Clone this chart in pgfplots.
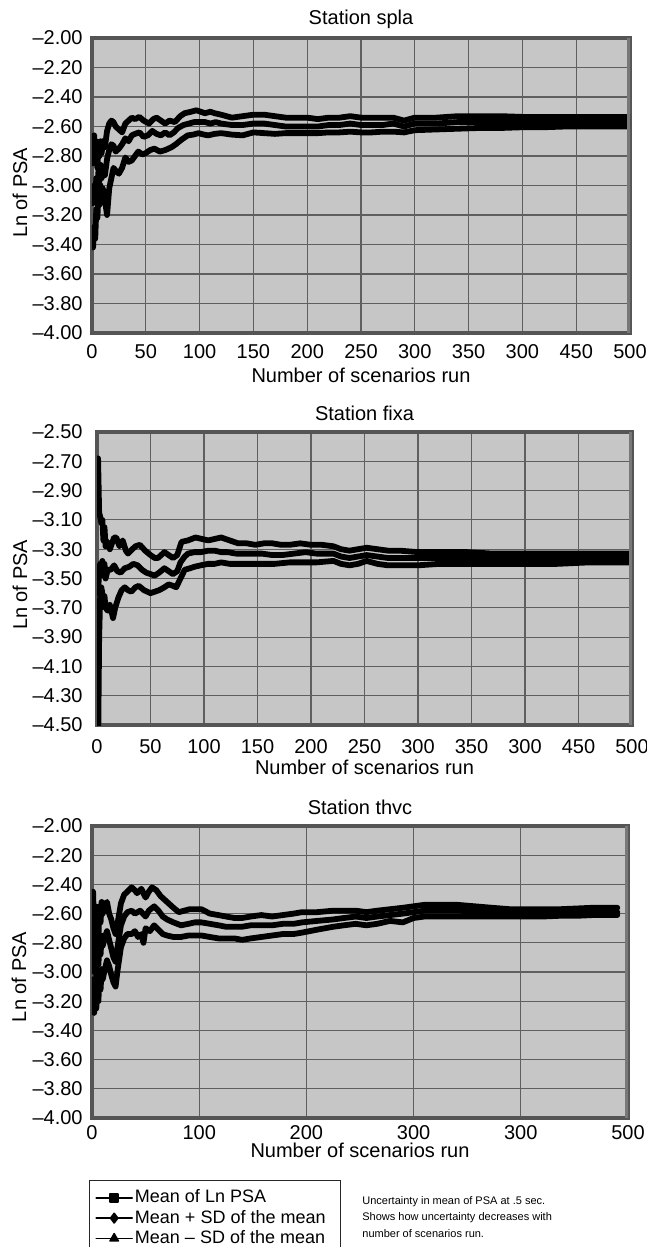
\documentclass[border=0pt]{standalone}
\usepackage{fontspec}
\setmainfont{Liberation Sans}
\usepackage{pgfplots}
\usepackage{pgfplotstable}
\pgfplotsset{compat=1.18}

\definecolor{bg}{RGB}{198,198,198}
\definecolor{gridc}{RGB}{95,95,95}
\definecolor{border}{RGB}{85,85,85}
\definecolor{borderR}{RGB}{120,120,120}

% ---------------- Station spla ----------------
\pgfplotstableread{
x y
1 -2.85
2 -2.66
3 -2.78
4 -2.70
5 -2.88
6 -2.74
7 -2.80
8 -2.70
9 -2.78
10 -2.70
12 -2.74
14 -2.63
16 -2.58
18 -2.56
20 -2.57
22 -2.60
25 -2.62
28 -2.64
31 -2.58
34 -2.56
37 -2.54
40 -2.55
44 -2.535
48 -2.56
53 -2.58
57 -2.55
60 -2.54
64 -2.56
68 -2.58
72 -2.56
77 -2.57
82 -2.53
86 -2.51
92 -2.50
97 -2.49
101 -2.50
105 -2.51
110 -2.50
114 -2.51
120 -2.52
130 -2.54
140 -2.53
150 -2.52
160 -2.52
170 -2.53
180 -2.54
190 -2.54
200 -2.54
210 -2.55
220 -2.54
230 -2.54
240 -2.53
250 -2.54
260 -2.54
270 -2.54
280 -2.54
290 -2.56
300 -2.54
320 -2.54
340 -2.53
360 -2.53
380 -2.53
400 -2.535
420 -2.535
440 -2.535
460 -2.535
480 -2.535
500 -2.535
}\splaUp
\pgfplotstableread{
x y
1 -3.12
2 -3.00
3 -3.10
4 -2.95
5 -3.05
6 -2.90
7 -2.97
8 -2.86
9 -2.95
10 -2.88
12 -2.93
14 -2.82
16 -2.76
18 -2.72
20 -2.73
22 -2.77
25 -2.75
28 -2.72
31 -2.68
34 -2.70
37 -2.66
40 -2.65
44 -2.64
48 -2.67
52 -2.66
56 -2.63
60 -2.65
64 -2.66
68 -2.64
72 -2.66
76 -2.64
80 -2.61
85 -2.59
90 -2.58
95 -2.57
100 -2.57
105 -2.57
110 -2.58
115 -2.57
120 -2.58
130 -2.59
140 -2.59
150 -2.58
160 -2.58
170 -2.59
180 -2.60
190 -2.60
200 -2.60
210 -2.60
220 -2.59
230 -2.59
240 -2.58
250 -2.59
260 -2.59
270 -2.59
280 -2.58
290 -2.60
300 -2.58
320 -2.58
340 -2.57
360 -2.57
380 -2.57
400 -2.57
420 -2.57
440 -2.57
460 -2.57
480 -2.57
500 -2.57
}\splaMean
\pgfplotstableread{
x y
1 -3.42
2 -3.28
3 -3.36
4 -3.16
5 -3.22
6 -3.06
7 -3.13
8 -3.00
9 -3.10
10 -3.02
12 -3.10
14 -3.20
16 -3.02
18 -2.95
20 -2.88
22 -2.90
25 -2.92
28 -2.88
31 -2.81
34 -2.84
37 -2.83
40 -2.80
43 -2.77
47 -2.79
50 -2.78
54 -2.76
58 -2.75
63 -2.77
68 -2.76
74 -2.74
78 -2.72
83 -2.69
89 -2.66
94 -2.655
99 -2.645
104 -2.655
108 -2.66
114 -2.65
120 -2.645
130 -2.655
140 -2.66
150 -2.64
160 -2.645
170 -2.65
180 -2.645
190 -2.645
200 -2.645
210 -2.645
220 -2.64
230 -2.64
240 -2.635
250 -2.64
260 -2.64
270 -2.635
280 -2.635
290 -2.64
300 -2.625
320 -2.62
340 -2.615
360 -2.61
380 -2.61
400 -2.605
420 -2.605
440 -2.60
460 -2.60
480 -2.60
500 -2.60
}\splaLo

% ---------------- Station fixa ----------------
\pgfplotstableread{
x y
1 -2.68
2 -3.05
3 -3.08
4 -3.12
5 -3.10
6 -3.24
7 -3.15
8 -3.28
10 -3.25
12 -3.30
14 -3.26
16 -3.22
18 -3.22
21 -3.28
24 -3.24
27 -3.31
29 -3.33
33 -3.30
36 -3.28
40 -3.27
45 -3.31
50 -3.34
54 -3.36
57 -3.36
60 -3.34
63 -3.32
67 -3.34
71 -3.36
75 -3.34
79 -3.25
85 -3.24
92 -3.22
98 -3.23
104 -3.24
110 -3.23
116 -3.22
124 -3.24
132 -3.26
140 -3.26
148 -3.27
156 -3.26
164 -3.26
172 -3.27
180 -3.27
190 -3.26
200 -3.27
210 -3.27
221 -3.28
228 -3.30
236 -3.31
244 -3.30
252 -3.29
262 -3.30
272 -3.31
283 -3.31
300 -3.32
320 -3.32
346 -3.32
370 -3.33
400 -3.33
430 -3.33
460 -3.33
497 -3.33
}\fixaUp
\pgfplotstableread{
x y
1 -3.60
2 -3.45
3 -3.40
4 -3.42
5 -3.38
6 -3.48
7 -3.40
8 -3.50
10 -3.44
13 -3.44
16 -3.41
19 -3.45
22 -3.46
26 -3.43
30 -3.42
34 -3.40
38 -3.41
42 -3.44
46 -3.46
50 -3.47
54 -3.48
58 -3.46
63 -3.43
67 -3.45
71 -3.47
75 -3.45
78 -3.39
82 -3.35
85 -3.33
91 -3.32
97 -3.32
104 -3.31
110 -3.31
116 -3.32
122 -3.32
130 -3.33
138 -3.33
146 -3.33
154 -3.33
164 -3.34
173 -3.34
184 -3.33
195 -3.32
205 -3.33
221 -3.33
228 -3.35
236 -3.36
244 -3.35
252 -3.34
262 -3.35
272 -3.36
283 -3.36
300 -3.36
320 -3.36
346 -3.36
370 -3.36
400 -3.36
430 -3.36
460 -3.36
497 -3.36
}\fixaMean
\pgfplotstableread{
x y
1 -4.70
2 -3.90
3 -3.62
4 -3.56
5 -3.60
6 -3.68
7 -3.62
8 -3.70
10 -3.72
12 -3.68
15 -3.77
17 -3.70
20 -3.63
23 -3.58
26 -3.56
29 -3.58
32 -3.59
36 -3.56
39 -3.55
44 -3.58
50 -3.60
54 -3.59
58 -3.58
63 -3.56
67 -3.54
71 -3.55
74 -3.56
78 -3.50
82 -3.44
87 -3.43
91 -3.42
97 -3.41
104 -3.40
110 -3.40
116 -3.39
124 -3.40
132 -3.40
140 -3.40
148 -3.40
156 -3.40
166 -3.40
180 -3.39
195 -3.39
205 -3.39
221 -3.38
228 -3.40
236 -3.41
244 -3.40
252 -3.38
262 -3.40
272 -3.41
283 -3.41
300 -3.41
320 -3.40
346 -3.40
370 -3.40
400 -3.40
430 -3.40
460 -3.39
497 -3.39
}\fixaLo

% ---------------- Station thvc ----------------
\pgfplotstableread{
x y
1 -2.45
2 -2.72
3 -2.55
4 -2.85
5 -2.60
6 -2.76
7 -2.55
8 -2.66
9 -2.52
10 -2.60
12 -2.54
14 -2.52
16 -2.60
18 -2.64
20 -2.70
22 -2.74
24 -2.66
27 -2.53
30 -2.47
33 -2.45
37 -2.42
40 -2.44
42 -2.46
46 -2.43
50 -2.49
53 -2.45
56 -2.42
60 -2.44
64 -2.48
70 -2.52
76 -2.56
81 -2.59
86 -2.58
91 -2.57
96 -2.57
102 -2.57
110 -2.60
118 -2.61
125 -2.62
133 -2.63
140 -2.63
148 -2.62
158 -2.61
168 -2.62
178 -2.61
188 -2.60
196 -2.59
210 -2.59
225 -2.58
235 -2.58
246 -2.58
256 -2.59
266 -2.58
278 -2.57
290 -2.56
300 -2.55
310 -2.54
325 -2.54
341 -2.54
357 -2.55
373 -2.56
390 -2.57
404 -2.57
420 -2.57
436 -2.57
452 -2.565
467 -2.56
480 -2.56
490 -2.56
}\thvcUp
\pgfplotstableread{
x y
1 -2.75
2 -3.00
3 -2.80
4 -3.05
5 -2.85
6 -2.95
7 -2.78
8 -2.88
9 -2.75
10 -2.82
12 -2.76
14 -2.72
16 -2.78
18 -2.84
20 -2.90
22 -2.93
24 -2.82
27 -2.68
30 -2.62
33 -2.59
37 -2.58
40 -2.60
45 -2.58
50 -2.62
53 -2.58
58 -2.55
62 -2.58
66 -2.62
70 -2.64
76 -2.66
83 -2.68
90 -2.67
96 -2.66
102 -2.66
110 -2.67
118 -2.68
125 -2.69
133 -2.69
140 -2.69
148 -2.68
158 -2.68
168 -2.68
178 -2.67
188 -2.67
196 -2.66
210 -2.65
225 -2.64
235 -2.63
246 -2.62
256 -2.63
266 -2.62
278 -2.61
290 -2.60
300 -2.59
310 -2.58
325 -2.58
341 -2.58
357 -2.585
373 -2.59
390 -2.59
404 -2.59
420 -2.59
436 -2.59
452 -2.59
467 -2.59
480 -2.59
490 -2.59
}\thvcMean
\pgfplotstableread{
x y
1 -3.05
2 -3.28
3 -3.05
4 -3.25
5 -3.10
6 -3.20
7 -3.00
8 -3.12
9 -2.98
10 -3.05
12 -2.98
14 -2.92
16 -2.96
18 -3.02
20 -3.07
22 -3.10
24 -2.98
27 -2.83
30 -2.77
33 -2.74
37 -2.74
40 -2.72
43 -2.76
46 -2.74
48 -2.80
50 -2.70
54 -2.72
58 -2.68
62 -2.71
66 -2.74
70 -2.75
76 -2.76
83 -2.76
90 -2.75
96 -2.75
102 -2.75
110 -2.76
118 -2.77
125 -2.77
133 -2.77
140 -2.78
148 -2.77
158 -2.76
168 -2.75
178 -2.74
188 -2.74
196 -2.73
210 -2.71
225 -2.69
235 -2.68
246 -2.67
256 -2.68
266 -2.67
278 -2.65
290 -2.66
300 -2.63
310 -2.62
325 -2.62
341 -2.62
357 -2.62
373 -2.62
390 -2.62
404 -2.62
420 -2.62
436 -2.615
452 -2.615
467 -2.61
480 -2.61
490 -2.61
}\thvcLo

\pgfplotsset{
  station/.style={
    scale only axis,
    xmin=0, xmax=500,
    axis background/.style={fill=bg},
    grid=major,
    major grid style={gridc, line width=0.55pt},
    axis line style={border, line width=2.2pt},
    major tick length=0pt,
    tick label style={font=\fontsize{10}{12}\selectfont},
    yticklabel style={anchor=east, inner sep=0pt},
    label style={font=\fontsize{10}{12}\selectfont},
    title style={font=\fontsize{10}{12}\selectfont, at={(0.5,1)}, anchor=center, yshift=3.5pt},
    xlabel={Number of scenarios run},
    ylabel={Ln of PSA},
    cycle list={{black, mark=none}},
    every axis plot/.append style={black, line width=2.9pt, line join=round, line cap=round, mark=none},
  },
}

\begin{document}
\begin{tikzpicture}
\path[use as bounding box] (0,0) rectangle (323.5pt,-623.5pt);

% ---------- Plot 1 ----------
\begin{axis}[station,
  at={(46pt,-166.5pt)}, anchor=south west,
  width=269pt, height=147.5pt,
  ymin=-4, ymax=-2,
  title={Station spla},
  xtick={0,50,100,150,200,250,300,350,400,450,500},
  xticklabels={0,50,100,150,200,250,300,350,300,450,500},
  ytick={-4,-3.8,-3.6,-3.4,-3.2,-3,-2.8,-2.6,-2.4,-2.2,-2},
  yticklabels={–4.00,–3.80,–3.60,–3.40,–3.20,–3.00,–2.80,–2.60,–2.40,–2.20,–2.00},
  xticklabel style={anchor=center, yshift=-9.5pt},
  yticklabel style={xshift=-4.5pt},
  xlabel style={at={(axis description cs:0.5,-0.142)}, anchor=center},
  ylabel style={at={(axis description cs:-0.134,0.475)}, anchor=center},
]
\addplot table {\splaLo};
\addplot table {\splaUp};
\addplot table {\splaMean};
\draw[borderR, line width=2.6pt] (rel axis cs:1,0) -- (rel axis cs:1,1);
\end{axis}

% ---------- Plot 2 ----------
\begin{axis}[station,
  at={(48.5pt,-362.5pt)}, anchor=south west,
  width=267.5pt, height=146.5pt,
  ymin=-4.5, ymax=-2.5,
  title={Station fixa},
  xtick={0,50,100,150,200,250,300,350,400,450,500},
  xticklabels={0,50,100,150,200,250,300,350,300,450,500},
  ytick={-4.5,-4.3,-4.1,-3.9,-3.7,-3.5,-3.3,-3.1,-2.9,-2.7,-2.5},
  yticklabels={–4.50,–4.30,–4.10,–3.90,–3.70,–3.50,–3.30,–3.10,–2.90,–2.70,–2.50},
  xticklabel style={anchor=center, yshift=-11pt},
  yticklabel style={xshift=-7pt},
  xlabel style={at={(axis description cs:0.5,-0.143)}, anchor=center},
  ylabel style={at={(axis description cs:-0.144,0.478)}, anchor=center},
]
\addplot table {\fixaLo};
\addplot table {\fixaUp};
\addplot table {\fixaMean};
\draw[borderR, line width=2.6pt] (rel axis cs:1,0) -- (rel axis cs:1,1);
\end{axis}

% ---------- Plot 3 ----------
\begin{axis}[station,
  at={(46pt,-559pt)}, anchor=south west,
  width=268pt, height=146pt,
  ymin=-4, ymax=-2,
  title={Station thvc},
  xtick={0,100,200,300,400,500},
  xticklabels={0,100,200,300,300,500},
  ytick={-4,-3.8,-3.6,-3.4,-3.2,-3,-2.8,-2.6,-2.4,-2.2,-2},
  yticklabels={–4.00,–3.80,–3.60,–3.40,–3.20,–3.00,–2.80,–2.60,–2.40,–2.20,–2.00},
  xticklabel style={anchor=center, yshift=-7.5pt},
  yticklabel style={xshift=-4.5pt},
  xlabel style={at={(axis description cs:0.5,-0.110)}, anchor=center},
  ylabel style={at={(axis description cs:-0.136,0.483)}, anchor=center},
  legend style={at={(axis description cs:-0.006,-0.212)}, anchor=north west,
    draw=black!85, line width=0.6pt, fill=white,
    font=\fontsize{9}{10}\selectfont,
    inner xsep=3pt, inner ysep=3.5pt, row sep=0pt,
    nodes={inner sep=1pt, text height=6.6pt, text depth=1.6pt}},
  legend cell align=left,
  legend image code/.code={\draw[#1, mark repeat=2, mark phase=2] plot coordinates {(0pt,0pt) (9pt,0pt) (18pt,0pt)};},
]
\addlegendimage{black, line width=0.8pt, mark=square*, mark size=2pt}
\addlegendentry{Mean of Ln PSA}
\addlegendimage{black, line width=0.8pt, mark=diamond*, mark size=2.4pt}
\addlegendentry{Mean + SD of the mean\hspace*{3.5pt}}
\addlegendimage{black, line width=0.8pt, mark=triangle*, mark size=2.4pt}
\addlegendentry{Mean – SD of the mean}
\addplot[forget plot] table {\thvcLo};
\addplot[forget plot] table {\thvcUp};
\addplot[forget plot] table {\thvcMean};
\draw[borderR, line width=2.6pt] (rel axis cs:1,0) -- (rel axis cs:1,1);
\end{axis}

\node[anchor=north west, align=left, inner sep=0pt, font=\fontsize{5.5}{8.3}\selectfont] at (181pt,-598pt)
  {Uncertainty in mean of PSA at .5 sec.\\Shows how uncertainty decreases with\\number of scenarios run.};
\end{tikzpicture}
\end{document}
